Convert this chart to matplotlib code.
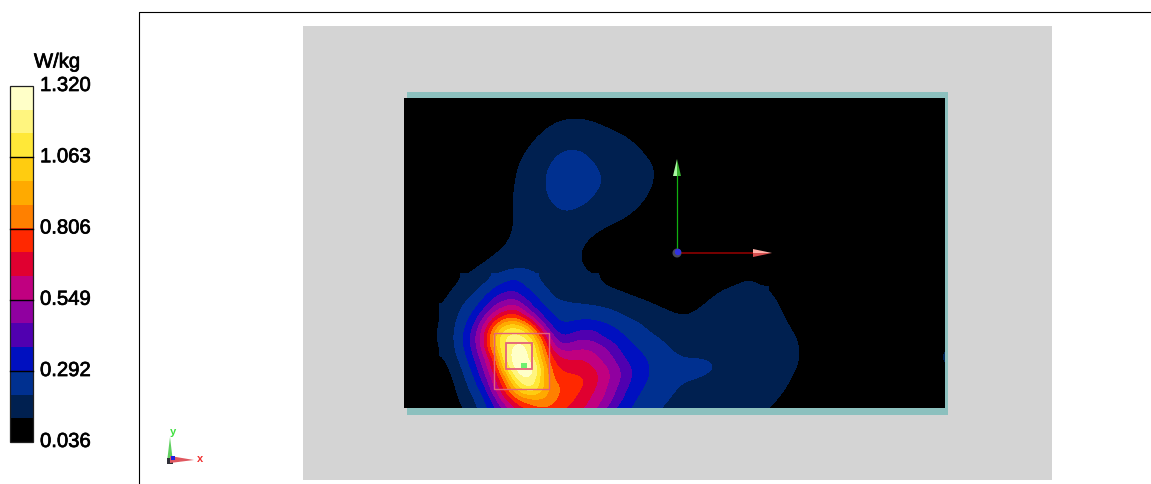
import numpy as np
import matplotlib
matplotlib.use("Agg")
import matplotlib.pyplot as plt
import matplotlib.patheffects as pe
from matplotlib.colors import ListedColormap, BoundaryNorm
from matplotlib.patches import Rectangle, Polygon, Wedge

W, H = 1151, 485

# colour scale
sar_min = 0.036
sar_max = 1.320
tick_values = [0.036, 0.292, 0.549, 0.806, 1.063, 1.320]
tick_labels = ["0.036", "0.292", "0.549", "0.806", "1.063", "1.320"]
unit_label = "W/kg"
band_colors = ["#000000", "#002050", "#003090", "#0010c0", "#5000b0",
               "#9000a0", "#c00080", "#e00030", "#ff2800", "#ff8000",
               "#ffaa00", "#ffcc10", "#ffe838", "#fff57f", "#ffffc8"]

# field, in colour band units (0 = black, 15 = top)
# whole scan area, 20 px between samples
coarse_x0, coarse_y0, coarse_step = 404, 99, 20
coarse_bands = np.array([
    [0]*28,
    [0,0,0,0,0,0,0.1,0.6,1.05,1.05,0.75,0.35]+[0]*16,
    [0,0,0,0,0,0.1,0.6,1.3,1.7,1.7,1.4,1.2,0.75,0.3]+[0]*14,
    [0,0,0,0,0.1,0.5,1.1,1.8,2.3,2.2,1.7,1.4,1.1,0.8,0.3]+[0]*13,
    [0,0,0,0,0.1,0.6,1.3,2.05,2.5,2.4,2.05,1.6,1.25,0.85,0.3]+[0]*13,
    [0,0,0,0,0.15,0.7,1.4,1.95,2.3,2.2,1.8,1.4,1.1,0.6,0.2]+[0]*13,
    [0,0,0,0,0.2,0.7,1.3,1.7,1.95,1.75,1.4,1.1,0.7,0.3]+[0]*14,
    [0,0,0,0.1,0.4,0.85,1.3,1.5,1.4,1.1,0.6,0.3,0.1]+[0]*15,
    [0,0,0,0.2,0.75,1.25,1.5,1.5,1.25,0.9,0.4,0.1]+[0]*16,
    [0,0,0.4,1.1,1.7,2.5,2.6,1.8,1.45,1.15,0.95,0.7,0.5,0.4,0.35,0.45,0.7,0.95,0.85,0.35]+[0]*8,
    [0,0.3,0.9,1.75,3.0,4.6,4.05,2.6,1.8,1.65,1.5,1.2,0.95,0.85,0.75,0.9,1.25,1.5,1.4,0.75,0.3]+[0]*7,
    [0,0.4,1.1,2.5,5.2,8.6,7.8,3.9,2.75,2.85,2.6,2.15,1.7,1.3,1.05,1.2,1.5,1.65,1.55,1.05,0.5,0.1]+[0]*6,
    [0,0.5,1.3,3.15,7,13,13.4,7.9,4.05,4.95,3.95,3.1,2.4,1.9,1.55,1.5,1.55,1.65,1.6,1.3,0.9,0.3,0,0,0,0,0,0.7],
    [0,0.3,0.95,2.6,5.8,13,14.8,10,6.9,6.95,5.6,4,3.1,2.45,2,2,1.75,1.7,1.6,1.4,0.95,0.3,0,0,0,0,0.1,1.5],
    [0,0.1,0.4,1.9,4.6,9.4,14.3,11,8.4,8.1,6.6,4.8,3.2,2.5,2.15,1.95,1.7,1.6,1.55,1.25,0.7,0.2,0,0,0,0,0,0.6],
    [0,0,0.1,1.4,2.9,7,9.9,10.15,8.6,7.5,6,3.95,2.7,2.15,1.75,1.6,1.5,1.4,1.3,0.95,0.3]+[0]*7,
    [0,0,0,0.8,2.1,4.3,6.8,7.9,7.3,6.3,4.7,2.9,2.2,1.75,1.5,1.35,1.25,1.15,0.95,0.5]+[0]*8,
])

# hot spot, 10 px between samples
fine_x0, fine_y0, fine_step = 444, 279, 10
fine_bands = np.array([
    [0.4,0.8,1.1,1.4,1.7,2.05,2.5,2.8,2.6,2.15,1.8,1.6,1.45,1.3,1.15,1.05,0.95,0.8,0.7,0.6,0.5,0.45,0.4,0.35,0.35,0.4,0.45,0.55,0.7,0.85,0.95,0.95,0.85],
    [0.7,1.05,1.3,1.7,2.2,3.0,3.6,3.85,3.2,2.6,2.05,1.8,1.6,1.4,1.25,1.15,1.05,0.95,0.85,0.75,0.7,0.65,0.6,0.6,0.6,0.65,0.7,0.8,0.95,1.05,1.1,1.1,1.0],
    [0.9,1.3,1.75,2.3,3.0,4.1,4.6,4.8,4.05,3.3,2.6,1.9,1.8,1.7,1.65,1.6,1.5,1.35,1.2,1.05,0.95,0.9,0.85,0.8,0.75,0.8,0.9,1.05,1.25,1.4,1.5,1.5,1.4],
    [1.05,1.6,2.2,2.8,3.9,5.3,6.2,6.9,5.5,3.9,3.15,2.7,2.4,2.3,2.25,2.15,2.05,1.9,1.65,1.4,1.2,1.05,0.95,0.85,0.85,0.95,1.05,1.2,1.4,1.5,1.6,1.6,1.5],
    [1.1,1.8,2.5,3.5,5.2,7.2,8.6,9.2,7.8,6.0,3.9,2.95,2.75,2.8,2.85,2.8,2.6,2.4,2.15,1.9,1.7,1.5,1.3,1.15,1.05,1.1,1.2,1.35,1.5,1.6,1.65,1.65,1.55],
    [1.25,1.95,2.9,4.3,6.5,9.4,12.15,12.5,11.8,9.0,5.8,3.8,3.2,3.5,3.85,3.85,3.5,3.1,2.7,2.4,2.05,1.75,1.5,1.35,1.25,1.3,1.35,1.45,1.55,1.6,1.65,1.65,1.6],
    [1.3,2.0,3.15,4.7,7.0,11.0,13.0,13.6,13.4,11.7,7.9,5.1,4.05,4.7,4.95,4.6,3.95,3.6,3.1,2.75,2.4,2.15,1.9,1.7,1.55,1.5,1.5,1.5,1.55,1.6,1.65,1.65,1.6],
    [1.1,1.95,3.0,4.5,6.7,10.5,13.1,14.3,14.6,12.8,9.5,6.3,5.5,5.7,5.9,5.8,5.3,4.4,3.6,3.15,2.75,2.45,2.15,1.9,1.75,1.7,1.65,1.6,1.6,1.65,1.65,1.65,1.6],
    [0.95,1.7,2.6,4.0,5.8,8.3,13.0,14.6,14.8,13.0,10.0,7.8,6.9,6.95,6.95,6.3,5.6,5.05,4.0,3.5,3.1,2.75,2.45,2.15,2.0,2.0,2.0,1.9,1.75,1.75,1.7,1.65,1.6],
    [0.7,1.4,2.2,3.5,5.2,7.7,11.5,14.4,15,14.6,11.0,8.4,7.7,7.6,7.5,7.1,6.4,5.5,4.7,3.8,3.2,2.85,2.6,2.45,2.35,2.3,2.2,2.05,1.75,2.15,1.7,1.65,1.6],
    [0.4,1.15,1.9,2.9,4.6,6.5,9.4,12.8,14.3,13.7,11.0,8.9,8.4,8.3,8.1,7.4,6.6,5.7,4.8,3.8,3.2,2.8,2.5,2.3,2.15,2.05,1.95,1.8,1.7,1.65,1.6,1.6,1.55],
    [0.15,0.9,1.65,2.45,3.7,6.0,8.2,10.8,13.0,13.1,10.9,9.4,8.9,8.4,8.0,7.2,6.3,5.3,4.3,3.5,2.95,2.6,2.35,2.1,1.85,1.75,1.65,1.6,1.6,1.55,1.5,1.45,1.4],
    [0.1,0.75,1.4,2.0,2.9,4.7,7.0,8.7,9.9,10.2,10.15,9.3,8.6,8.1,7.5,6.7,6.0,5.0,3.95,3.1,2.7,2.4,2.15,1.9,1.75,1.65,1.6,1.55,1.5,1.45,1.4,1.35,1.3],
    [0,0.5,1.1,1.75,2.6,3.9,5.3,6.9,8.05,8.7,9.05,8.7,8.25,7.7,7.05,6.4,5.4,4.2,3.4,2.85,2.5,2.2,1.95,1.8,1.65,1.55,1.5,1.45,1.4,1.35,1.3,1.2,1.1],
    [0,0.3,0.8,1.4,2.1,3.1,4.3,5.6,6.8,7.5,7.9,7.7,7.3,6.9,6.3,5.6,4.7,3.6,2.9,2.5,2.2,2.0,1.75,1.6,1.5,1.4,1.35,1.3,1.25,1.2,1.15,1.05,0.95],
])

band_step = (sar_max - sar_min) / len(band_colors)
levels = sar_min + band_step * np.arange(len(band_colors) + 1)
cmap = ListedColormap(band_colors)
norm = BoundaryNorm(levels, cmap.N, clip=True)

fig = plt.figure(figsize=(W / 100, H / 100), dpi=100, facecolor="white")
ax = fig.add_axes([0, 0, 1, 1])
ax.set_axis_off()


def draw_field(bands, x0, y0, step, clip):
    sar = sar_min + band_step * bands
    rows, cols = sar.shape
    extent = (x0 - step / 2, x0 + (cols - 0.5) * step,
              y0 + (rows - 0.5) * step, y0 - step / 2)
    im = ax.imshow(sar, cmap=cmap, norm=norm, extent=extent, aspect="auto",
                   interpolation="bicubic", origin="upper", zorder=3)
    im.set_clip_path(clip)


# frame and phantom background
ax.plot([139, 139, 1151], [485, 13, 13], color="black", lw=0.8, zorder=1)
ax.add_patch(Rectangle((303, 27), 749, 454, fc="#d4d4d4", ec="none", zorder=1))
ax.add_patch(Rectangle((407, 93), 541, 323, fc="#8cc0be", ec="none", zorder=2))

scan = Rectangle((404, 99), 541, 310, fc="black", ec="none", zorder=2.5)
ax.add_patch(scan)
draw_field(coarse_bands, coarse_x0, coarse_y0, coarse_step, scan)
draw_field(fine_bands, fine_x0, fine_y0, fine_step, scan)

# peak search boxes
box_col = "#e4607a"
ax.add_patch(Rectangle((494, 334), 55, 56, fc="none", ec=box_col, lw=1.0, zorder=5))
ax.add_patch(Rectangle((506, 344), 26, 26, fc="none", ec=box_col, lw=1.3, zorder=5))
ax.add_patch(Rectangle((521, 364), 6, 5, fc="#70f070", ec="none", zorder=5))

# axes triad on the scan
ax.plot([677, 677], [254, 176], color="#10b010", lw=0.9, zorder=6)
ax.plot([677, 753], [254, 254], color="#8c0000", lw=1.2, zorder=6)
ax.add_patch(Polygon([(677, 160), (673, 177), (677, 177)], fc="#a8f8a0", ec="none", zorder=7))
ax.add_patch(Polygon([(677, 160), (681, 177), (677, 177)], fc="#38b030", ec="none", zorder=7))
ax.add_patch(Polygon([(772, 254), (753, 250), (753, 254)], fc="#ffb0a8", ec="none", zorder=7))
ax.add_patch(Polygon([(772, 254), (753, 258), (753, 254)], fc="#d85050", ec="none", zorder=7))
ax.add_patch(Wedge((677, 254), 4.5, 0, 360, fc="#484858", ec="none", zorder=8))
ax.add_patch(Wedge((678, 253), 3.2, 0, 360, fc="#3030e0", ec="none", zorder=9))

# small triad bottom left
ax.add_patch(Polygon([(170, 438), (167, 463), (173, 463)], fc="#60d060", ec="none", zorder=6))
ax.add_patch(Polygon([(194, 461), (170, 457), (170, 464)], fc="#e05860", ec="none", zorder=7))
ax.add_patch(Rectangle((167, 459), 6, 6, fc="#303038", ec="none", zorder=6.5))
ax.add_patch(Rectangle((171, 457), 4, 4, fc="#2020e0", ec="none", zorder=8))
ax.text(173, 432, "y", color="#40e040", fontsize=8, fontweight="bold",
        family="Liberation Sans", ha="center", va="center", zorder=8)
ax.text(200, 459, "x", color="#f03030", fontsize=8, fontweight="bold",
        family="Liberation Sans", ha="center", va="center", zorder=8)

# colour bar
bar_left, bar_right, bar_bottom, bar_top = 10, 33, 443, 87


def bar_y(value):
    return bar_bottom - (value - sar_min) / (sar_max - sar_min) * (bar_bottom - bar_top)


for k, col in enumerate(band_colors):
    y0, y1 = bar_y(levels[k]), bar_y(levels[k + 1])
    ax.add_patch(Rectangle((bar_left, y1), bar_right - bar_left, y0 - y1,
                           fc=col, ec="none", zorder=3))
ax.add_patch(Rectangle((bar_left, bar_top), bar_right - bar_left, bar_bottom - bar_top,
                       fc="none", ec="#202020", lw=0.9, zorder=4))
stroke = [pe.withStroke(linewidth=0.5, foreground="black")]
for value, label in zip(tick_values, tick_labels):
    ypos = bar_y(value)
    if 0.036 < value < 1.320:
        ax.plot([bar_left, bar_right], [ypos, ypos], color="black", lw=1.0, zorder=5)
    ax.text(40, ypos - 0.5, label, fontsize=14.6, family="Liberation Sans",
            ha="left", va="center", color="black", path_effects=stroke)
ax.text(57, 63, unit_label, fontsize=14.6, family="Liberation Sans",
        ha="center", va="center", color="black", path_effects=stroke)

ax.set_xlim(0, W)
ax.set_ylim(H, 0)
fig.savefig("out.png", dpi=100, facecolor="white")
